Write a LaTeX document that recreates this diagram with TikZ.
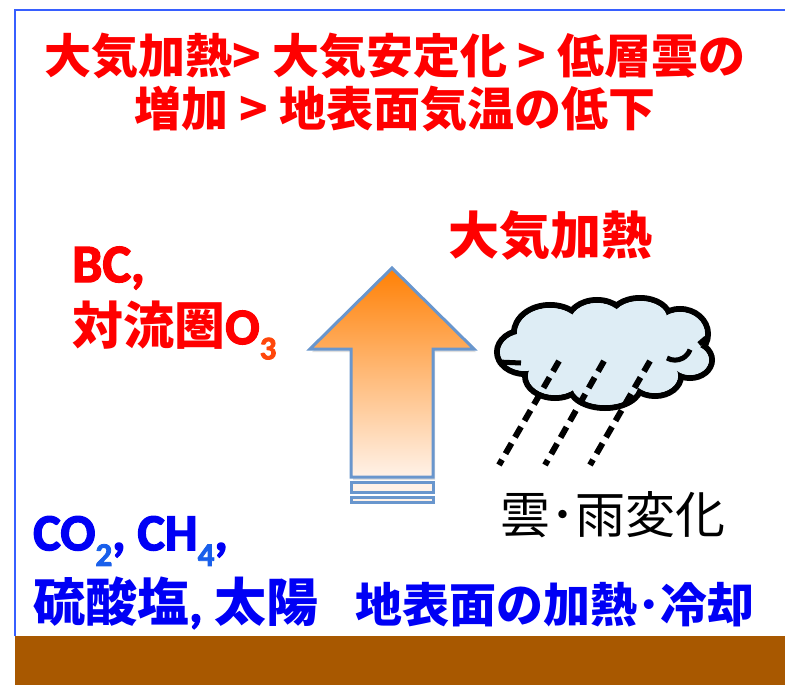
\documentclass[tikz,border=0pt]{standalone}
\usepackage{fontspec}
\setmainfont{Noto Sans CJK JP}
\newfontfamily\latinsans{Carlito}[FakeBold=2.5]
\usetikzlibrary{shadows}

\definecolor{heatred}{RGB}{255,0,0}
\definecolor{gasblue}{RGB}{0,0,245}
\definecolor{subblue}{RGB}{25,95,235}
\definecolor{subred}{RGB}{255,70,10}
\definecolor{soil}{RGB}{168,88,0}
\definecolor{frameblue}{RGB}{55,95,255}
\definecolor{arrowedge}{RGB}{105,150,205}
\definecolor{arrowtop}{RGB}{255,128,5}
\definecolor{arrowbot}{RGB}{255,242,232}
\definecolor{cloudfill}{RGB}{222,237,245}

% Latin words and lowered small figures for formulas
\newcommand{\lat}[1]{{\latinsans\bfseries #1}}
\newcommand{\chemsub}[2]{\raisebox{-0.3em}{\latinsans\bfseries\fontsize{33}{33}\selectfont\textcolor{#1}{#2}}}

\tikzset{
	bigred/.style={text=heatred, font=\fontsize{47}{58}\selectfont\bfseries, inner sep=0pt},
	bigblue/.style={text=gasblue, font=\fontsize{52}{62}\selectfont\bfseries, inner sep=0pt},
	cloudpuff/.style={line width=6pt},
	rain/.style={line width=6pt, dash pattern=on 12pt off 7pt},
	arrowline/.style={draw=arrowedge, line width=3pt},
}

\begin{document}
\begin{tikzpicture}[x=1pt,y=-1pt]
	\useasboundingbox (0,0) rectangle (785,685);

	% frame and ground
	\fill[soil] (15,636) rectangle (785,685);
	\draw[frameblue, line width=2pt] (15,636) -- (15,10) -- (785,10);

	% heading
	\node[bigred] (ttla) at (395,56) {大気加熱> 大気安定化 > 低層雲の};
	\node[bigred] (ttlb) at (395,109) {増加 > 地表面気温の低下};

	% upward arrow with its two bars
	\shadedraw[top color=arrowtop, bottom color=arrowbot, arrowline,
		drop shadow={shadow xshift=2pt, shadow yshift=-3pt, opacity=0.25}]
		(392,268) -- (474,349) -- (433,349) -- (433,477) -- (351,477) -- (351,349) -- (310,349) -- cycle;
	\filldraw[fill=arrowbot, arrowline] (351,482) rectangle (433,492);
	\filldraw[fill=arrowbot, arrowline] (351,497) rectangle (433,502);

	\node[bigred, font=\fontsize{51}{60}\selectfont\bfseries] (heat) at (550,235) {大気加熱};
	\node[bigred, font=\fontsize{54}{60}\selectfont\bfseries, anchor=west] (bc) at (72,268) {\lat{BC,}};
	\node[bigred, font=\fontsize{51}{60}\selectfont\bfseries, anchor=west] (oz) at (72,330) {対流圏\lat{O}\chemsub{subred}{3}};

	% cloud: outlined puffs, then filled again to hide the inner strokes
	\foreach \cx/\cy/\rx/\ry in {525/352/28/22, 550/333/36/28, 597/323/30/23, 640/318/30/20,
		680/334/28/25, 690/360/22/18, 655/376/26/20, 605/386/36/22, 555/376/30/22} {
		\draw[cloudpuff, fill=cloudfill] (\cx,\cy) ellipse ({\rx} and {\ry});
	}
	\foreach \cx/\cy/\rx/\ry in {525/352/28/22, 550/333/36/28, 597/323/30/23, 640/318/30/20,
		680/334/28/25, 690/360/22/18, 655/376/26/20, 605/386/36/22, 555/376/30/22} {
		\fill[cloudfill] (\cx,\cy) ellipse ({\rx-3} and {\ry-3});
	}
	\fill[cloudfill] (610,352) ellipse (75 and 30);
	% a few inner creases
	\draw[line width=5pt] (498,362) -- (521,363);
	\draw[line width=5pt] (699,344) -- (706,338);
	\draw[line width=5pt] (667,358) arc[start angle=120, end angle=20, radius=16];

	% rain
	\draw[rain] (559,361) -- (499,465);
	\draw[rain] (604,361) -- (545,465);
	\draw[rain] (650,361) -- (590,465);

	\node[font=\fontsize{50}{60}\selectfont, anchor=west, inner sep=0pt] (rainchg) at (500,515) {雲･雨変化};

	% surface forcings
	\node[bigblue, anchor=west] (ghg) at (33,541) {\lat{CO\chemsub{subblue}{2}, CH\chemsub{subblue}{4},}};
	\node[bigblue, anchor=west] (sulf) at (33,603) {硫酸塩\lat{,} 太陽};
	\node[bigblue, font=\fontsize{47}{58}\selectfont\bfseries, anchor=west] (sfc) at (355,605) {地表面の加熱･冷却};
\end{tikzpicture}
\end{document}
